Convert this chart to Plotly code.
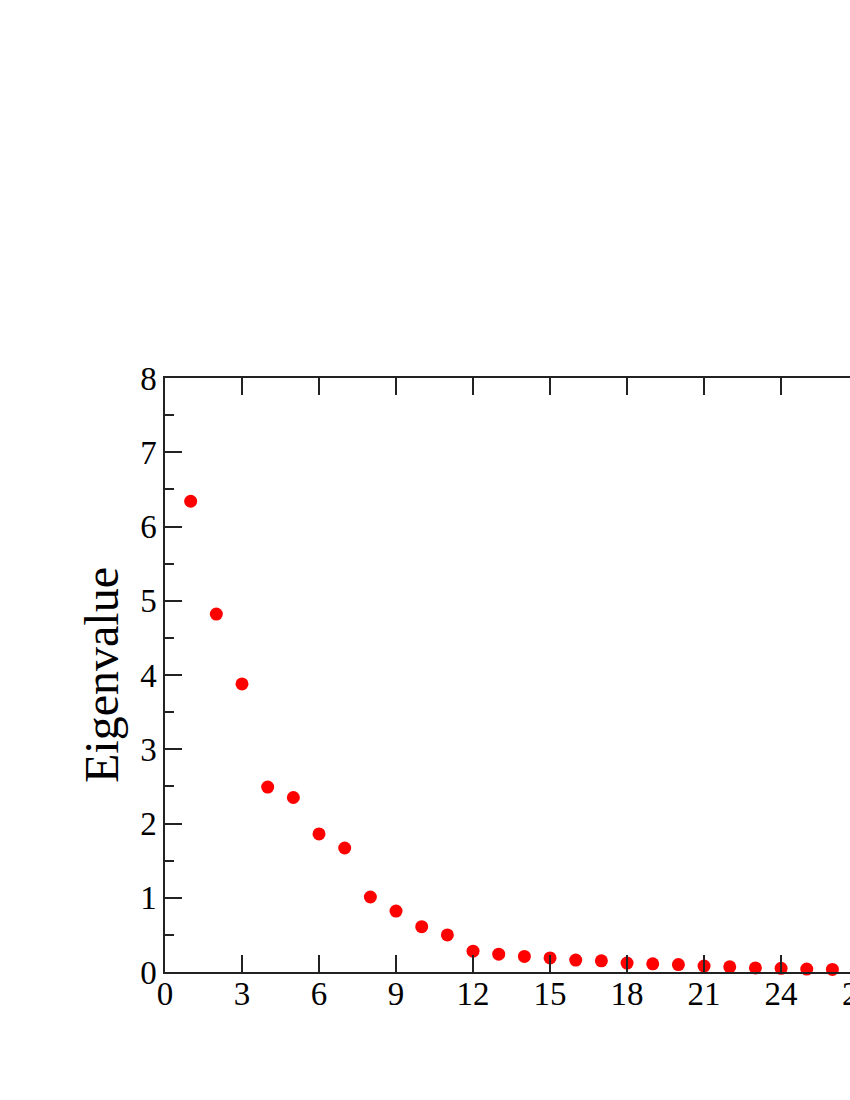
import plotly.graph_objects as go

# eigenvalue index and values
index = list(range(1, 27))
eigenvalues = [6.34, 4.82, 3.88, 2.49, 2.35, 1.86, 1.67, 1.01, 0.82, 0.61,
               0.50, 0.28, 0.24, 0.21, 0.19, 0.16, 0.15, 0.12, 0.11, 0.10,
               0.08, 0.07, 0.055, 0.05, 0.04, 0.035]
x_ticks = [0, 3, 6, 9, 12, 15, 18, 21, 24]
y_ticks = [0, 1, 2, 3, 4, 5, 6, 7, 8]
cut_tick = 27  # tick label that runs off the right edge

FONT = 'Liberation Serif'
X_MAX = 685 / 25.67

fig = go.Figure()
fig.add_trace(
    go.Scatter(x=index,
               y=eigenvalues,
               mode='markers',
               marker=dict(color='#ff0000', size=13),
               cliponaxis=False,
               showlegend=False))

# in the reference the plot runs past the right edge, cutting "27" in half
fig.add_annotation(x=cut_tick / X_MAX, y=0, xref='paper', yref='paper',
                   text=str(cut_tick), showarrow=False,
                   xanchor='center', yanchor='top', yshift=-2,
                   font=dict(family=FONT, size=33, color='black'))

fig.update_layout(
    width=850,
    height=1100,
    margin=dict(l=165, r=0, t=378, b=128),
    plot_bgcolor='white',
    paper_bgcolor='white',
    font=dict(family=FONT, color='black'),
    xaxis=dict(
        range=[0, X_MAX],
        tickmode='array',
        tickvals=x_ticks,
        ticks='inside',
        ticklen=17,
        tickwidth=1.5,
        tickcolor='#222222',
        ticklabelstandoff=-8,
        showline=True,
        linecolor='#222222',
        linewidth=1.5,
        mirror='ticks',
        showgrid=False,
        zeroline=False,
        tickfont=dict(family=FONT, size=33),
    ),
    yaxis=dict(
        range=[0, 8],
        tickmode='array',
        tickvals=y_ticks,
        ticks='inside',
        ticklen=17,
        tickwidth=1.5,
        tickcolor='#222222',
        minor=dict(dtick=0.5, ticks='inside', ticklen=9, tickwidth=1.5,
                   tickcolor='#222222', showgrid=False),
        showline=True,
        linecolor='#222222',
        linewidth=1.5,
        showgrid=False,
        zeroline=False,
        tickfont=dict(family=FONT, size=33),
        title=dict(text='Eigenvalue', font=dict(family=FONT, size=48),
                   standoff=6),
    ),
)

# drop the default body margin so the figure fills the window exactly
fig.write_html("out.html",
               config=dict(displayModeBar=False),
               post_script="document.body.style.margin='0';"
                           "document.body.style.overflow='hidden';")
